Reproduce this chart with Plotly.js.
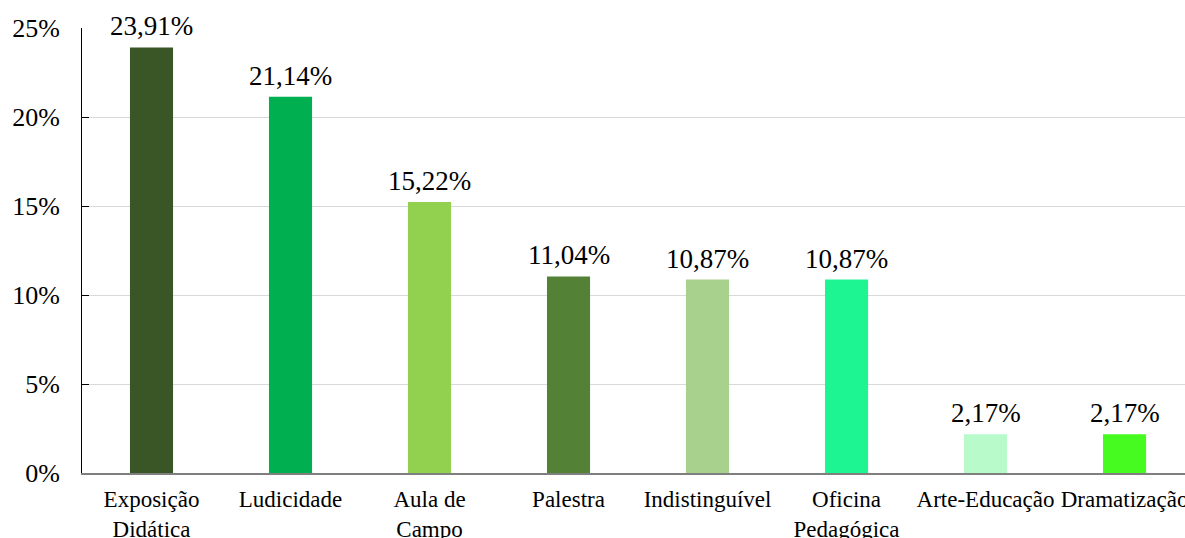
<!DOCTYPE html>
<html>
<head>
<meta charset="utf-8">
<script src="https://cdn.plot.ly/plotly-3.0.1.min.js"></script>
<style>html,body{margin:0;padding:0;background:#fff;}#chart{width:1185px;height:538px;}</style>
</head>
<body>
<div id="chart"></div>
<script>
const categories = ["Exposição<br>Didática", "Ludicidade", "Aula de<br>Campo", "Palestra", "Indistinguível", "Oficina<br>Pedagógica", "Arte-Educação", "Dramatização"];
const values = [23.91, 21.14, 15.22, 11.04, 10.87, 10.87, 2.17, 2.17];
const labels = ["23,91%", "21,14%", "15,22%", "11,04%", "10,87%", "10,87%", "2,17%", "2,17%"];
const colors = ["#3a5626", "#00b050", "#92d050", "#538135", "#a9d18e", "#1cf592", "#b9facb", "#45fb1f"];
const yTickVals = [0, 5, 10, 15, 20, 25];
const yTickText = ["0%", "5%", "10%", "15%", "20%", "25%"];

const xs = categories.map((c, i) => i);
const trace = {
  type: "bar",
  x: xs,
  y: values,
  marker: {color: colors},
  width: 0.31,
  hoverinfo: "none"
};

const annotations = xs.map((x, i) => ({
  x: x, y: values[i], xref: "x", yref: "y",
  text: labels[i], showarrow: false,
  yanchor: "bottom", yshift: 4,
  font: {family: "Liberation Serif, Times New Roman, serif", size: 27, color: "#000"}
}));

const layout = {
  width: 1185, height: 538,
  margin: {l: 82, r: 0, t: 28, b: 65},
  paper_bgcolor: "#fff", plot_bgcolor: "#fff",
  showlegend: false,
  font: {family: "Liberation Serif, Times New Roman, serif", color: "#000"},
  annotations: annotations,
  xaxis: {
    range: [-0.5, 7.435],
    tickvals: xs,
    ticktext: categories,
    tickfont: {size: 23, color: "#000"},
    showgrid: false, zeroline: false,
    showline: true, linecolor: "#7f7f7f", linewidth: 2,
    ticks: "", ticklabelstandoff: 4,
    ticklabeloverflow: "allow"
  },
  yaxis: {
    range: [0, 25],
    tickvals: yTickVals,
    ticktext: yTickText,
    tickfont: {size: 26, color: "#000"},
    showgrid: true, gridcolor: "#d9d9d9", gridwidth: 1,
    zeroline: false,
    showline: true, linecolor: "#000", linewidth: 1,
    ticks: "inside", ticklen: 7, tickcolor: "#000",
    ticklabelstandoff: 16
  },
  bargap: 0.69
};

Plotly.newPlot("chart", [trace], layout, {displayModeBar: false, staticPlot: true});
</script>
</body>
</html>
